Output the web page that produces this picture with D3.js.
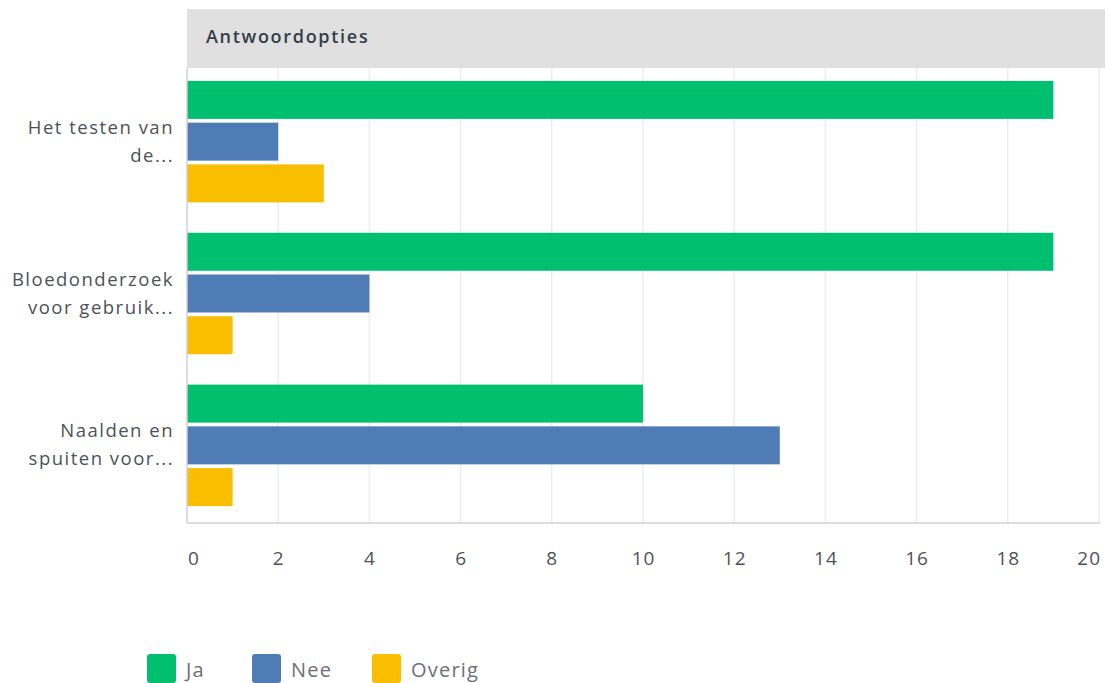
<!DOCTYPE html>
<html><head><meta charset="utf-8">
<script src="https://cdn.jsdelivr.net/npm/d3@7/dist/d3.min.js"></script>
<style>
body{margin:0;background:#fff;}
text{font-family:"Open Sans","Noto Sans",sans-serif;}
</style></head>
<body><svg id="chart" width="1105" height="683"></svg>
<script>
const categories = [["Het testen van","de..."],["Bloedonderzoek","voor gebruik..."],["Naalden en","spuiten voor..."]];
const seriesNames = ["Ja","Nee","Overig"];
const seriesColors = ["#00bf6f","#507cb6","#f9be00"];
const ja = [19,19,10];
const nee = [2,4,13];
const overig = [3,1,1];
const tickValues = [0,2,4,6,8,10,12,14,16,18,20];
const headerLabel = "Antwoordopties";

(function(){
const values = [ja, nee, overig];
const svg = d3.select("#chart");
const pLeft = 187, pRight = 1099, pTop = 68, pBottom = 523;

const x = d3.scaleLinear().domain([0,20]).range([pLeft,pRight]);
const y0 = d3.scaleBand().domain(d3.range(categories.length)).range([pTop,pBottom-4]).paddingInner(0.2).paddingOuter(0.085);
const y1 = d3.scaleBand().domain(d3.range(seriesNames.length)).range([0,y0.bandwidth()]).paddingInner(0.09);

// header
svg.append("rect").attr("x",pLeft).attr("y",9).attr("width",1105-pLeft).attr("height",pTop-9).attr("fill","#e0e0e0");
svg.append("text").attr("x",206).attr("y",43).text(headerLabel)
  .attr("font-size",18).attr("font-weight",600).attr("letter-spacing",1.7).attr("fill","#333e48");

// grid
svg.append("g").selectAll("line").data(tickValues.slice(1)).join("line")
  .attr("x1",d=>x(d)).attr("x2",d=>x(d)).attr("y1",pTop).attr("y2",pBottom)
  .attr("stroke","#ececec").attr("stroke-width",1.5);

// bars
categories.forEach((c,i)=>{
  const g = svg.append("g").attr("transform",`translate(0,${y0(i)})`);
  g.selectAll("rect").data(seriesNames.map((s,j)=>({j,v:values[j][i]}))).join("rect")
    .attr("x",x(0)).attr("y",d=>y1(d.j)).attr("width",d=>x(d.v)-x(0)).attr("height",y1.bandwidth())
    .attr("fill",d=>seriesColors[d.j]);
  const t = svg.append("text").attr("text-anchor","end").attr("font-size",18.5)
    .attr("letter-spacing",1.5).attr("fill","#4c5259");
  const cy = y0(i)+y0.bandwidth()/2;
  c.forEach((line,k)=>{
    t.append("tspan").attr("x",174).attr("y",cy - 14*(c.length-1) + 28*k + 6).text(line);
  });
});

// axes lines
svg.append("line").attr("x1",pLeft).attr("x2",pLeft).attr("y1",pTop).attr("y2",pBottom).attr("stroke","#d0d0d0").attr("stroke-width",1.5);
svg.append("line").attr("x1",pLeft).attr("x2",pRight+1).attr("y1",pBottom).attr("y2",pBottom).attr("stroke","#d0d0d0").attr("stroke-width",1.5);

// tick labels
svg.append("g").selectAll("text").data(tickValues).join("text")
  .attr("x",(d,i)=> i===0 ? x(d)+1 : (i===tickValues.length-1 ? x(d)+2 : x(d)+0.5))
  .attr("text-anchor",(d,i)=> i===0 ? "start" : (i===tickValues.length-1 ? "end" : "middle"))
  .attr("y",565).attr("font-size",19).attr("letter-spacing",1).attr("fill","#4c5259").text(d=>d);

// legend
const legX = [147,252,372];
seriesNames.forEach((s,j)=>{
  svg.append("rect").attr("x",legX[j]).attr("y",654).attr("width",29).attr("height",29).attr("rx",3).attr("fill",seriesColors[j]);
  svg.append("text").attr("x",legX[j]+39).attr("y",677).attr("font-size",20).attr("letter-spacing",1.2)
    .attr("fill","#6b7077").text(s);
});
})();
</script></body></html>
